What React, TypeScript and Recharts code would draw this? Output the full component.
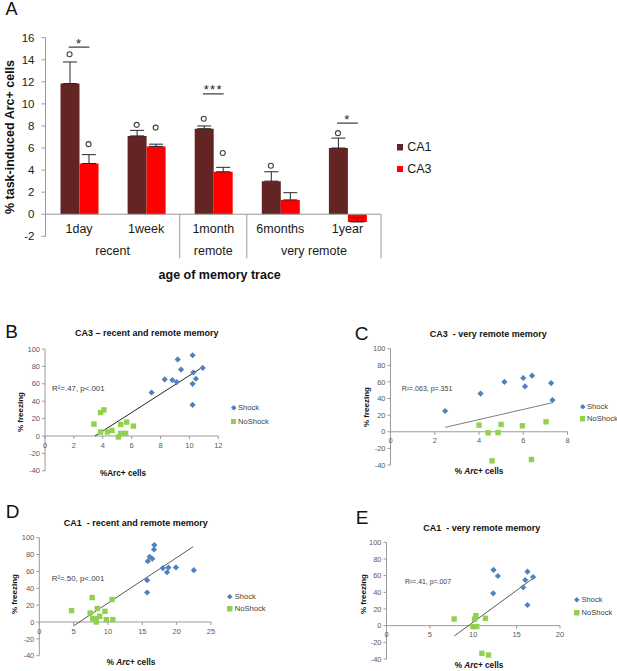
import React from 'react';
import {
  ComposedChart,
  ScatterChart,
  Bar,
  ErrorBar,
  Scatter,
  XAxis,
  YAxis,
  ReferenceLine,
  Legend,
} from 'recharts';

// ---------------- Panel A data ----------------
const ageCategories = ['1day', '1week', '1month', '6months', '1year'];
const memoryGroups = ['recent', 'remote', 'very remote'];
const memoryGroupSpans = [2, 1, 2];
const ca1Percent = [11.85, 7.1, 7.75, 3.0, 6.0];
const ca3Percent = [4.6, 6.15, 3.85, 1.3, -0.7];
const ca1Sem = [1.95, 0.5, 0.25, 0.85, 0.9];
const ca3Sem = [0.8, 0.2, 0.4, 0.65, 0.4];
const ca1CircleMarks = [14.5, 8.1, 8.65, 4.4, 7.35];
const ca3CircleMarks: (number | null)[] = [6.35, 7.85, 5.55, null, null];
const sigLevels: (number | null)[] = [15.15, null, 10.9, null, 8.25];
const sigStars = ['*', '', '***', '', '*'];
const barYTicks = [-2, 0, 2, 4, 6, 8, 10, 12, 14, 16];

// ---------------- Scatter panels data ----------------
type Pt = [number, number];
const freezingTicks = [-40, -20, 0, 20, 40, 60, 80, 100];
const legendOrder = ['CA1', 'CA3', 'Shock', 'NoShock'];

const bXTicks = [0, 2, 4, 6, 8, 10, 12];
const bShock: Pt[] = [[7.38, 50], [8.29, 65], [8.82, 64.3], [9.12, 62], [9.19, 88], [9.42, 76.4], [10.22, 92.8], [10.27, 73], [10.45, 65.8], [10.22, 60], [10.92, 78.3], [10.22, 35.7]];
const bNoShock: Pt[] = [[3.39, 13.7], [3.85, 27], [4.08, 30], [3.85, 4.6], [4.32, 4.6], [4.64, 6.5], [5.08, -1.1], [5.24, 13.3], [5.24, 3], [5.58, 3], [5.65, 16], [6.12, 11.4]];
const bTrend: Pt[] = [[3.46, 0], [10.75, 77.5]];

const cXTicks = [0, 2, 4, 6, 8];
const cShock: Pt[] = [[2.47, 25], [4.07, 46], [5.15, 60], [6.0, 64.7], [6.08, 54.6], [6.4, 67.5], [7.26, 58.6], [7.32, 38.2]];
const cNoShock: Pt[] = [[4.0, 8], [4.41, -1.2], [4.86, -1], [5.0, 8.8], [5.96, 7.2], [7.03, 12], [4.59, -35], [6.37, -33.3]];
const cTrend: Pt[] = [[2.47, 5.3], [7.32, 35]];

const dXTicks = [0, 5, 10, 15, 20, 25];
const dShock: Pt[] = [[16.75, 91.3], [16.7, 86], [16.07, 77.4], [16.46, 75], [15.8, 72.2], [18.0, 64], [18.8, 64.5], [18.6, 59], [19.9, 64.7], [22.5, 61.5], [15.7, 49.6], [15.7, 35]];
const dNoShock: Pt[] = [[4.7, 13.5], [7.7, 29], [10.6, 26.6], [7.4, 10.7], [8.45, 16], [9.56, 12.7], [8.8, 6.7], [7.77, 4], [8.2, 4], [8.3, 0], [9.76, 2.8], [10.7, 2.8]];
const dTrend: Pt[] = [[4.95, -4.8], [22.4, 89.3]];

const eXTicks = [0, 5, 10, 15, 20];
const eShock: Pt[] = [[12.34, 66.8], [12.84, 59.6], [12.3, 38.8], [16.25, 64.8], [16.0, 54.8], [16.9, 58.4], [15.75, 46], [16.25, 24.8]];
const eNoShock: Pt[] = [[7.8, 8], [10.3, 12], [10.15, 7.6], [9.96, -1.2], [10.4, -1], [11.4, 8.8], [11.0, -33.2], [11.76, -35.2]];
const eTrend: Pt[] = [[7.82, -12.4], [16.9, 56.8]];

// ---------------- styles ----------------
const FONT = '"Liberation Sans", Arial, Helvetica, sans-serif';
const CA1_COLOR = '#632523';
const CA3_COLOR = '#ff0000';
const SHOCK_BLUE = '#4f81bd';
const NOSHOCK_GREEN = '#92d050';
const AXIS_GRAY = '#9a9a9a';
const TICK_GRAY = '#595959';

type TxtProps = {
  x: number;
  y: number;
  size: number;
  bold?: boolean;
  rot?: boolean;
  anchor?: 'middle' | 'start';
  color?: string;
  children: React.ReactNode;
};
function Txt({ x, y, size, bold, rot, anchor = 'middle', color = '#111', children }: TxtProps) {
  const tx = anchor === 'middle' ? '-50%' : '0';
  return (
    <div
      style={{
        position: 'absolute',
        left: x,
        top: y,
        fontSize: size,
        fontWeight: bold ? 700 : 400,
        color,
        whiteSpace: 'pre',
        lineHeight: 1,
        transform: `translate(${tx},-50%)${rot ? ' rotate(-90deg)' : ''}`,
      }}
    >
      {children}
    </div>
  );
}

function LegendIcon({ type, color, size }: { type: string; color: string; size: number }) {
  const h = size / 2;
  if (type === 'diamond') {
    return (
      <svg width={size} height={size} style={{ display: 'block' }}>
        <polygon points={`${h},0 ${size},${h} ${h},${size} 0,${h}`} fill={color} />
      </svg>
    );
  }
  return (
    <svg width={size} height={size} style={{ display: 'block' }}>
      <rect x={0} y={0} width={size} height={size} fill={color} />
    </svg>
  );
}

function makeLegend(rowH: number, iconSize: number, fontSize: number, gap: number, color: string) {
  return (props: any) => {
    const items = (props.payload || [])
      .filter((e: any) => e.type !== 'none')
      .slice()
      .sort((a: any, b: any) => legendOrder.indexOf(a.value) - legendOrder.indexOf(b.value));
    return (
      <div style={{ fontSize, color, fontFamily: FONT }}>
        {items.map((e: any) => (
          <div key={e.value} style={{ display: 'flex', alignItems: 'center', height: rowH, whiteSpace: 'nowrap' }}>
            <LegendIcon type={e.type} color={e.color} size={iconSize} />
            <span style={{ marginLeft: gap, lineHeight: 1 }}>{e.value}</span>
          </div>
        ))}
      </div>
    );
  };
}

// ---------------- Panel A ----------------
const A_BOX = { left: 0, top: 0, width: 460, height: 300 };
const A_PLOT = { left: 45.5, right: 381, top: 37.7, bottom: 236.3 };
const A_YMIN = -2;
const A_YMAX = 16;

const barData = ageCategories.map((cat, i) => ({
  cat,
  ca1: ca1Percent[i],
  ca3: ca3Percent[i],
  ca1Err: [0, ca1Sem[i]],
  ca3Err: [0, ca3Sem[i]],
  ca1Mark: ca1CircleMarks[i],
  ca3Mark: ca3CircleMarks[i],
  sig: sigLevels[i],
  star: sigStars[i],
}));

const groupStarts: number[] = [];
memoryGroupSpans.reduce((acc, s) => {
  groupStarts.push(acc);
  return acc + s;
}, 0);

function PanelA() {
  const yAxisW = 40;
  const xAxisH = 20;
  const margin = {
    top: A_PLOT.top - A_BOX.top,
    right: A_BOX.left + A_BOX.width - A_PLOT.right,
    bottom: A_BOX.top + A_BOX.height - A_PLOT.bottom - xAxisH,
    left: A_PLOT.left - A_BOX.left - yAxisW,
  };
  const plotH = A_PLOT.bottom - A_PLOT.top;
  const band = (A_PLOT.right - A_PLOT.left) / ageCategories.length;
  const zeroUp = ((0 - A_YMIN) / (A_YMAX - A_YMIN)) * plotH;
  const barW = 19;

  const AgeTick = (p: any) => {
    const { x, y, payload } = p;
    const i: number = p.index ?? payload.index ?? ageCategories.indexOf(payload.value);
    const g = groupStarts.indexOf(i);
    const last = i === ageCategories.length - 1;
    return (
      <g>
        <text x={x} y={y - 2.9} textAnchor="middle" fontSize={12.5} fill="#1a1a1a">
          {payload.value}
        </text>
        {g >= 0 && (
          <text x={x + ((memoryGroupSpans[g] - 1) * band) / 2} y={y + 19.1} textAnchor="middle" fontSize={12.5} fill="#1a1a1a">
            {memoryGroups[g]}
          </text>
        )}
        {g > 0 && <line x1={x - band / 2} x2={x - band / 2} y1={y - zeroUp} y2={y + 22} stroke={AXIS_GRAY} />}
        {last && <line x1={x + band / 2} x2={x + band / 2} y1={y - zeroUp} y2={y + 22} stroke={AXIS_GRAY} />}
      </g>
    );
  };

  const ring = (key: 'ca1Mark' | 'ca3Mark', dx: number) => (p: any) => {
    const v = p.payload ? p.payload[key] : null;
    if (v == null || !isFinite(p.cy)) return <g />;
    return <circle cx={p.cx + dx} cy={p.cy} r={2.5} fill="#fff" stroke="#404040" strokeWidth={1.1} />;
  };

  const sigShape = (p: any) => {
    const v = p.payload ? p.payload.sig : null;
    if (v == null || !isFinite(p.cy)) return <g />;
    return (
      <g>
        <line x1={p.cx - 10.4} x2={p.cx + 10.4} y1={p.cy} y2={p.cy} stroke="#404040" strokeWidth={1.3} />
        <text x={p.cx} y={p.cy + 0.5} textAnchor="middle" fontSize={13} letterSpacing={1.2} fill="#262626">
          {p.payload.star}
        </text>
      </g>
    );
  };

  return (
    <div style={{ position: 'absolute', left: A_BOX.left, top: A_BOX.top }}>
      <ComposedChart width={A_BOX.width} height={A_BOX.height} data={barData} margin={margin} barGap={0}>
        <XAxis
          dataKey="cat"
          type="category"
          axisLine={false}
          tickLine={false}
          tickSize={0}
          tickMargin={0}
          height={xAxisH}
          interval={0}
          tick={AgeTick}
        />
        <YAxis
          type="number"
          domain={[A_YMIN, A_YMAX]}
          ticks={barYTicks}
          interval={0}
          width={yAxisW}
          tickSize={4}
          tickMargin={7}
          axisLine={{ stroke: AXIS_GRAY }}
          tickLine={{ stroke: AXIS_GRAY }}
          tick={{ fontSize: 11.5, fill: '#1a1a1a' }}
          allowDataOverflow
        />
        <Bar dataKey="ca1" name="CA1" fill={CA1_COLOR} barSize={barW} isAnimationActive={false} legendType="square">
          <ErrorBar dataKey="ca1Err" width={7} stroke="#262626" strokeWidth={1} direction="y" />
        </Bar>
        <Bar dataKey="ca3" name="CA3" fill={CA3_COLOR} barSize={barW} isAnimationActive={false} legendType="square">
          <ErrorBar dataKey="ca3Err" width={7} stroke="#262626" strokeWidth={1} direction="y" />
        </Bar>
        <ReferenceLine y={0} stroke={AXIS_GRAY} />
        <Scatter dataKey="ca1Mark" legendType="none" isAnimationActive={false} shape={ring('ca1Mark', -barW / 2)} />
        <Scatter dataKey="ca3Mark" legendType="none" isAnimationActive={false} shape={ring('ca3Mark', barW / 2)} />
        <Scatter dataKey="sig" legendType="none" isAnimationActive={false} shape={sigShape} />
        <Legend
          layout="vertical"
          align="center"
          verticalAlign="middle"
          content={makeLegend(21.3, 6.5, 12.5, 4, '#1a1a1a')}
          wrapperStyle={{ left: 396.7, top: 137.1, width: 60, height: 43 }}
        />
      </ComposedChart>
    </div>
  );
}

// ---------------- Scatter panels ----------------
type Box = { left: number; top: number; width: number; height: number };
type PlotRect = { left: number; right: number; top: number; bottom: number };
type ScatterCfg = {
  box: Box;
  plot: PlotRect;
  xDomain: [number, number];
  xTicks: number[];
  shock: Pt[];
  noShock: Pt[];
  trend: Pt[];
  trendColor: string;
  legend: { left: number; top: number; row: number };
};

const Y_MIN = -40;
const Y_MAX = 100;

const toXY = (pts: Pt[]) => pts.map(([x, y]) => ({ x, y }));

const Diamond = (p: any) => {
  const r = 3.1;
  return <polygon points={`${p.cx},${p.cy - r} ${p.cx + r},${p.cy} ${p.cx},${p.cy + r} ${p.cx - r},${p.cy}`} fill={SHOCK_BLUE} />;
};
const Square = (p: any) => {
  const s = 5.4;
  return <rect x={p.cx - s / 2} y={p.cy - s / 2} width={s} height={s} fill={NOSHOCK_GREEN} />;
};

function ScatterPanel({ cfg }: { cfg: ScatterCfg }) {
  const { box, plot } = cfg;
  const yAxisW = 30;
  const xAxisH = 10;
  const margin = {
    top: plot.top - box.top,
    right: box.left + box.width - plot.right,
    bottom: box.top + box.height - plot.bottom - xAxisH,
    left: plot.left - box.left - yAxisW,
  };
  const plotH = plot.bottom - plot.top;
  const zeroUp = ((0 - Y_MIN) / (Y_MAX - Y_MIN)) * plotH;
  const XTick = (p: any) => {
    const { x, y, payload } = p;
    const zy = y - zeroUp;
    return (
      <g>
        <line x1={x} x2={x} y1={zy} y2={zy + 3} stroke={AXIS_GRAY} />
        <text x={x} y={zy + 11.6} textAnchor="middle" fontSize={7.5} fill={TICK_GRAY}>
          {payload.value}
        </text>
      </g>
    );
  };
  return (
    <div style={{ position: 'absolute', left: box.left, top: box.top }}>
      <ScatterChart width={box.width} height={box.height} margin={margin}>
        <XAxis
          type="number"
          dataKey="x"
          domain={cfg.xDomain}
          ticks={cfg.xTicks}
          interval={0}
          axisLine={false}
          tickLine={false}
          tickSize={0}
          tickMargin={0}
          height={xAxisH}
          tick={XTick}
          allowDataOverflow
        />
        <YAxis
          type="number"
          dataKey="y"
          domain={[Y_MIN, Y_MAX]}
          ticks={freezingTicks}
          interval={0}
          width={yAxisW}
          tickSize={3}
          tickMargin={2}
          axisLine={{ stroke: AXIS_GRAY }}
          tickLine={{ stroke: AXIS_GRAY }}
          tick={{ fontSize: 7.5, fill: TICK_GRAY }}
          allowDataOverflow
        />
        <ReferenceLine y={0} stroke={AXIS_GRAY} />
        <ReferenceLine
          segment={[
            { x: cfg.trend[0][0], y: cfg.trend[0][1] },
            { x: cfg.trend[1][0], y: cfg.trend[1][1] },
          ]}
          stroke={cfg.trendColor}
          strokeWidth={1}
        />
        <Scatter name="Shock" data={toXY(cfg.shock)} fill={SHOCK_BLUE} legendType="diamond" shape={Diamond} isAnimationActive={false} />
        <Scatter name="NoShock" data={toXY(cfg.noShock)} fill={NOSHOCK_GREEN} legendType="square" shape={Square} isAnimationActive={false} />
        <Legend
          layout="vertical"
          align="center"
          verticalAlign="middle"
          content={makeLegend(cfg.legend.row, 5.5, 7.6, 2, '#404040')}
          wrapperStyle={{ left: cfg.legend.left - box.left, top: cfg.legend.top - box.top, width: 50, height: cfg.legend.row * 2 }}
        />
      </ScatterChart>
    </div>
  );
}

const panelB: ScatterCfg = {
  box: { left: 0, top: 310, width: 310, height: 185 },
  plot: { left: 45, right: 218.3, top: 349, bottom: 470.8 },
  xDomain: [0, 12],
  xTicks: bXTicks,
  shock: bShock,
  noShock: bNoShock,
  trend: bTrend,
  trendColor: '#262626',
  legend: { left: 230.5, top: 401.3, row: 13.6 },
};
const panelC: ScatterCfg = {
  box: { left: 310, top: 310, width: 307, height: 185 },
  plot: { left: 390.5, right: 567.5, top: 348.7, bottom: 465 },
  xDomain: [0, 8],
  xTicks: cXTicks,
  shock: cShock,
  noShock: cNoShock,
  trend: cTrend,
  trendColor: '#7f7f7f',
  legend: { left: 579.5, top: 400.5, row: 12.4 },
};
const panelD: ScatterCfg = {
  box: { left: 0, top: 490, width: 310, height: 181 },
  plot: { left: 39.3, right: 211, top: 537.7, bottom: 655.7 },
  xDomain: [0, 25],
  xTicks: dXTicks,
  shock: dShock,
  noShock: dNoShock,
  trend: dTrend,
  trendColor: '#595959',
  legend: { left: 227.3, top: 590, row: 12.7 },
};
const panelE: ScatterCfg = {
  box: { left: 310, top: 490, width: 307, height: 181 },
  plot: { left: 386.5, right: 560, top: 542.3, bottom: 659 },
  xDomain: [0, 20],
  xTicks: eXTicks,
  shock: eShock,
  noShock: eNoShock,
  trend: eTrend,
  trendColor: '#595959',
  legend: { left: 574, top: 593.3, row: 13.3 },
};

export default function App() {
  return (
    <div
      style={{
        position: 'absolute',
        left: 0,
        top: 0,
        width: 617,
        height: 671,
        background: '#fff',
        fontFamily: FONT,
        overflow: 'hidden',
      }}
    >
      <PanelA />
      <ScatterPanel cfg={panelB} />
      <ScatterPanel cfg={panelC} />
      <ScatterPanel cfg={panelD} />
      <ScatterPanel cfg={panelE} />

      {/* panel letters */}
      <Txt x={11.5} y={9} size={18}>A</Txt>
      <Txt x={11.5} y={330.5} size={19}>B</Txt>
      <Txt x={361.5} y={332.5} size={19}>C</Txt>
      <Txt x={12.5} y={510.5} size={19}>D</Txt>
      <Txt x={362} y={516.5} size={19}>E</Txt>

      {/* panel A axis titles */}
      <Txt x={10} y={136.7} size={12.5} bold rot>% task-induced Arc+ cells</Txt>
      <Txt x={219.7} y={275} size={12.5} bold>age of memory trace</Txt>

      {/* scatter titles */}
      <Txt x={146.7} y={332.7} size={9} bold>CA3 – recent and remote memory</Txt>
      <Txt x={488.3} y={334.3} size={9} bold>{'CA3  - very remote memory'}</Txt>
      <Txt x={135.8} y={523.3} size={9} bold>{'CA1  - recent and remote memory'}</Txt>
      <Txt x={481.7} y={528.3} size={9} bold>{'CA1  - very remote memory'}</Txt>

      {/* scatter y titles */}
      <Txt x={21} y={411.5} size={8} bold rot>% freezing</Txt>
      <Txt x={367} y={406.5} size={8} bold rot>% freezing</Txt>
      <Txt x={15} y={594} size={8} bold rot>% freezing</Txt>
      <Txt x={364} y={593.5} size={8} bold rot>% freezing</Txt>

      {/* scatter x titles */}
      <Txt x={123} y={474} size={8.2} bold>%Arc+ cells</Txt>
      <Txt x={479} y={472.3} size={8.2} bold>
        % <i>Arc</i>+ cells
      </Txt>
      <Txt x={131} y={663.3} size={8.2} bold>
        % <i>Arc</i>+ cells
      </Txt>
      <Txt x={479} y={665.7} size={8.2} bold>
        % <i>Arc</i>+ cells
      </Txt>

      {/* regression annotations */}
      <Txt x={52} y={389.3} size={7.9} anchor="start" color="#404040">R²=.47, p&lt;.001</Txt>
      <Txt x={401.7} y={388.3} size={7} anchor="start" color="#404040">R²=.063, p=.351</Txt>
      <Txt x={51.7} y={578.7} size={7.9} anchor="start" color="#404040">R²=.50, p&lt;.001</Txt>
      <Txt x={405} y={581.7} size={6.9} anchor="start" color="#404040">R²=.41, p=.007</Txt>
    </div>
  );
}
